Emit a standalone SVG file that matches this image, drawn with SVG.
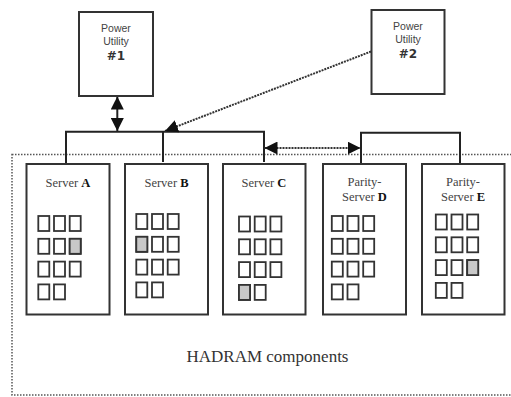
<svg xmlns="http://www.w3.org/2000/svg" width="511" height="397" viewBox="0 0 511 397">
<style>
.box{fill:#fff;stroke:#333;stroke-width:2}
.pu{font-family:"Liberation Sans",Arial,sans-serif;font-size:10.5px;fill:#444;text-anchor:middle}
.pub{font-family:"DejaVu Sans",sans-serif;font-size:12px;font-weight:bold;fill:#333;text-anchor:middle}
.lbl{font-family:"Liberation Serif","Times New Roman",serif;font-size:12.5px;fill:#444;text-anchor:middle}
.lbl tspan.b{font-weight:bold;fill:#111}
.sq{fill:#fff;stroke:#333;stroke-width:1.8}
.sh{fill:#c8c8c8}
.wire{fill:none;stroke:#222;stroke-width:2}
.dot{fill:none;stroke:#333;stroke-width:2;stroke-dasharray:2 1}
.frame{fill:none;stroke:#555;stroke-width:1.5;stroke-dasharray:1.5 1.5}
.title{font-family:"Liberation Serif","Times New Roman",serif;font-size:17px;fill:#333;text-anchor:middle}
</style>
<defs>
<marker id="ah" viewBox="0 0 13 13" refX="13" refY="6.5" markerWidth="13" markerHeight="13" orient="auto-start-reverse" markerUnits="userSpaceOnUse">
<path d="M0,0 L13,6.5 L0,13 z" fill="#111"/>
</marker>
<g id="grid">
<rect class="sq" x="0" y="0" width="11" height="15"/>
<rect class="sq" x="15.7" y="0" width="11" height="15"/>
<rect class="sq" x="31.4" y="0" width="11" height="15"/>
<rect class="sq" x="0" y="22.8" width="11" height="15"/>
<rect class="sq" x="15.7" y="22.8" width="11" height="15"/>
<rect class="sq" x="31.4" y="22.8" width="11" height="15"/>
<rect class="sq" x="0" y="45.6" width="11" height="15"/>
<rect class="sq" x="15.7" y="45.6" width="11" height="15"/>
<rect class="sq" x="31.4" y="45.6" width="11" height="15"/>
<rect class="sq" x="0" y="68.4" width="11" height="15"/>
<rect class="sq" x="15.7" y="68.4" width="11" height="15"/>
</g>
</defs>

<rect class="frame" x="12" y="154.5" width="510" height="240.5"/>

<g id="connectors">
<polyline class="wire" points="66,164 66,131.7 264,131.7 264,162"/>
<line class="wire" x1="163" y1="131.7" x2="163" y2="162"/>
<polyline class="wire" points="361,164 361,132.7 460,132.7 460,164"/>
<line class="wire" x1="117.3" y1="96.5" x2="117.3" y2="131" marker-start="url(#ah)" marker-end="url(#ah)"/>
<line class="dot" x1="371" y1="51.5" x2="165" y2="131" marker-end="url(#ah)"/>
<line class="dot" x1="264.5" y1="148" x2="360.5" y2="148" marker-start="url(#ah)" marker-end="url(#ah)"/>
</g>

<g id="pu1">
<rect class="box" x="79" y="12" width="74" height="84"/>
<text class="pu" x="116" y="31.5">Power</text>
<text class="pu" x="116" y="44.5">Utility</text>
<text class="pub" x="116" y="59.5">#1</text>
</g>
<g id="pu2">
<rect class="box" x="371.5" y="10" width="73" height="84"/>
<text class="pu" x="408" y="30">Power</text>
<text class="pu" x="408" y="43">Utility</text>
<text class="pub" x="408" y="57.5">#2</text>
</g>

<g id="serverA">
<rect class="box" x="26.5" y="164" width="83" height="150.5"/>
<text class="lbl" x="68" y="186.5">Server <tspan class="b">A</tspan></text>
<use href="#grid" x="38.3" y="216"/>
<rect class="sq sh" x="69.7" y="238.8" width="11" height="15"/>
</g>
<g id="serverB">
<rect class="box" x="125" y="164" width="83" height="150.5"/>
<text class="lbl" x="166.5" y="186.5">Server <tspan class="b">B</tspan></text>
<use href="#grid" x="136.3" y="214"/>
<rect class="sq sh" x="136.3" y="236.8" width="11" height="15"/>
</g>
<g id="serverC">
<rect class="box" x="223" y="164" width="82.5" height="150.5"/>
<text class="lbl" x="264" y="186.5">Server <tspan class="b">C</tspan></text>
<use href="#grid" x="239" y="216.5"/>
<rect class="sq sh" x="239" y="284.9" width="11" height="15"/>
</g>
<g id="serverD">
<rect class="box" x="323" y="164" width="83" height="150.5"/>
<text class="lbl" x="364.5" y="186">Parity-</text>
<text class="lbl" x="364.5" y="201">Server <tspan class="b">D</tspan></text>
<use href="#grid" x="331.8" y="216"/>
</g>
<g id="serverE">
<rect class="box" x="422" y="164" width="82.5" height="150.5"/>
<text class="lbl" x="463" y="186">Parity-</text>
<text class="lbl" x="463" y="201">Server <tspan class="b">E</tspan></text>
<use href="#grid" x="435.8" y="214.5"/>
<rect class="sq sh" x="467.2" y="260.1" width="11" height="15"/>
</g>

<text class="title" x="267.5" y="361.5">HADRAM components</text>
</svg>
